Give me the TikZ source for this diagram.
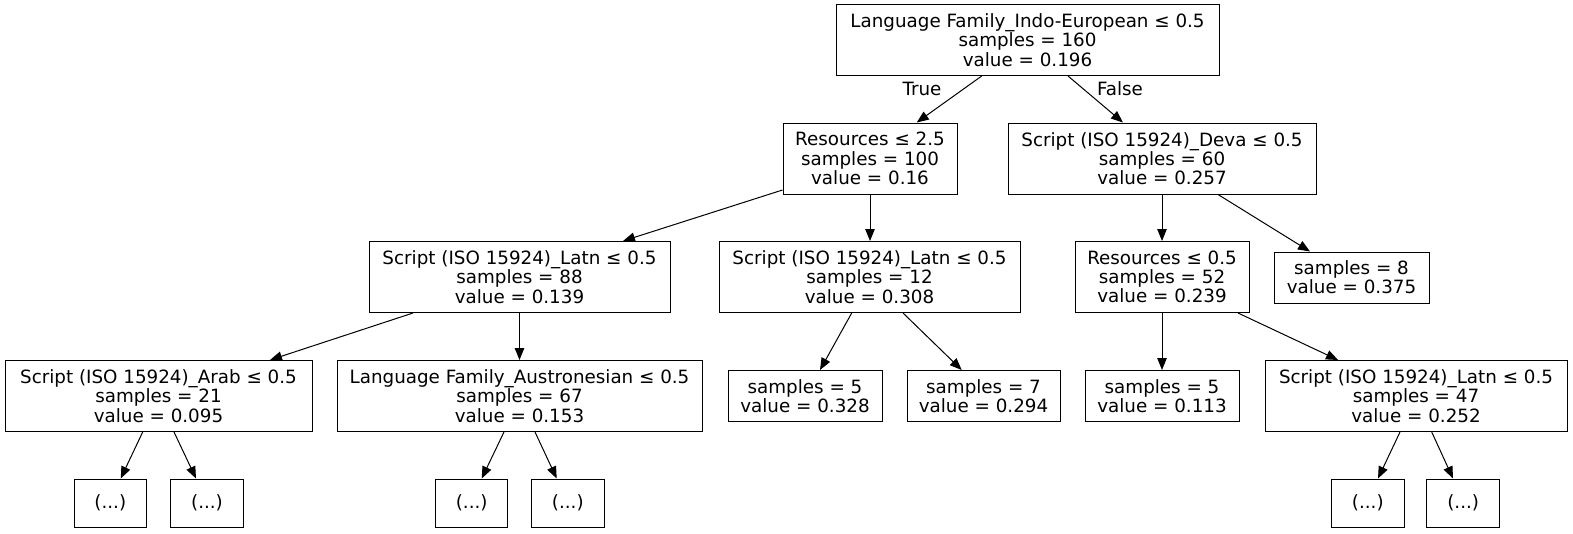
\documentclass[tikz,border=0pt]{standalone}
\usepackage{fontspec}
\setmainfont{DejaVu Sans}
\usetikzlibrary{arrows.meta}
\tikzset{
  box/.style={draw, line width=1pt, inner sep=0pt, align=center, minimum height=71pt,
    font=\fontsize{18.3}{19.2}\selectfont},
  leaf/.style={box, minimum height=51pt},
  dots/.style={box, minimum height=48pt, minimum width=72.5pt},
  edge/.style={line width=1pt, -{Triangle[length=12pt,width=9.5pt]}},
  lbl/.style={font=\fontsize{18.3}{19.2}\selectfont, inner sep=0pt}
}
\begin{document}
\begin{tikzpicture}[x=1pt,y=-1pt]
\useasboundingbox (0,0) rectangle (1573,533);
\node[box, minimum width=383pt] (root) at (1027.5,40) {Language Family\_Indo-European ≤ 0.5\\samples = 160\\value = 0.196};
\node[box, minimum width=174pt] (res25) at (870,158.5) {Resources ≤ 2.5\\samples = 100\\value = 0.16};
\node[box, minimum width=308pt] (deva) at (1162,158.5) {Script (ISO 15924)\_Deva ≤ 0.5\\samples = 60\\value = 0.257};
\node[box, minimum width=301pt] (latn88) at (519.5,277) {Script (ISO 15924)\_Latn ≤ 0.5\\samples = 88\\value = 0.139};
\node[box, minimum width=301pt] (latn12) at (869.5,277) {Script (ISO 15924)\_Latn ≤ 0.5\\samples = 12\\value = 0.308};
\node[box, minimum width=174pt] (res05) at (1162,277) {Resources ≤ 0.5\\samples = 52\\value = 0.239};
\node[leaf, minimum width=155pt] (s8) at (1351.5,277.5) {samples = 8\\value = 0.375};
\node[box, minimum width=307pt] (arab) at (158.5,396) {Script (ISO 15924)\_Arab ≤ 0.5\\samples = 21\\value = 0.095};
\node[box, minimum width=365pt] (austr) at (519.5,396) {Language Family\_Austronesian ≤ 0.5\\samples = 67\\value = 0.153};
\node[leaf, minimum width=154pt] (s5) at (805,396) {samples = 5\\value = 0.328};
\node[leaf, minimum width=153pt] (s7) at (983.5,396) {samples = 7\\value = 0.294};
\node[leaf, minimum width=154pt] (s5b) at (1162,396) {samples = 5\\value = 0.113};
\node[box, minimum width=302pt] (latn47) at (1416,396) {Script (ISO 15924)\_Latn ≤ 0.5\\samples = 47\\value = 0.252};
\node[dots] (d1) at (110.3,503) {(...)};
\node[dots] (d2) at (207,503) {(...)};
\node[dots] (d3) at (471.7,503) {(...)};
\node[dots] (d4) at (567.8,503) {(...)};
\node[dots] (d5) at (1367.8,503) {(...)};
\node[dots] (d6) at (1463.2,503) {(...)};
\draw[edge] ([xshift=-45.8pt]root.south) -- ([xshift=46.7pt]res25.north);
\draw[edge] ([xshift=40.5pt]root.south) -- ([xshift=-39pt]deva.north);
\node[lbl] (ltrue) at (922,89) {True};
\node[lbl] (lfalse) at (1120,89) {False};
\draw[edge] ([yshift=4.5pt]res25.south west) -- ([xshift=103.5pt]latn88.north);
\draw[edge] (res25.south) -- (res25.south |- latn12.north);
\draw[edge] (deva.south) -- (res05.north);
\draw[edge] ([xshift=56pt]deva.south) -- ([xshift=-41.5pt]s8.north);
\draw[edge] ([xshift=-106.5pt]latn88.south) -- ([xshift=111.5pt]arab.north);
\draw[edge] (latn88.south) -- (austr.north);
\draw[edge] ([xshift=-17.8pt]latn12.south) -- ([xshift=15pt]s5.north);
\draw[edge] ([xshift=33.5pt]latn12.south) -- ([xshift=-21.8pt]s7.north);
\draw[edge] (res05.south) -- (s5b.north);
\draw[edge] ([xshift=76pt]res05.south) -- ([xshift=-78pt]latn47.north);
\draw[edge] ([xshift=-15.8pt]arab.south) -- ([xshift=10.4pt]d1.north);
\draw[edge] ([xshift=15.5pt]arab.south) -- ([xshift=-11pt]d2.north);
\draw[edge] ([xshift=-15.5pt]austr.south) -- ([xshift=10pt]d3.north);
\draw[edge] ([xshift=15.5pt]austr.south) -- ([xshift=-11.1pt]d4.north);
\draw[edge] ([xshift=-16pt]latn47.south) -- ([xshift=10.2pt]d5.north);
\draw[edge] ([xshift=15.7pt]latn47.south) -- ([xshift=-10.2pt]d6.north);
\end{tikzpicture}
\end{document}
